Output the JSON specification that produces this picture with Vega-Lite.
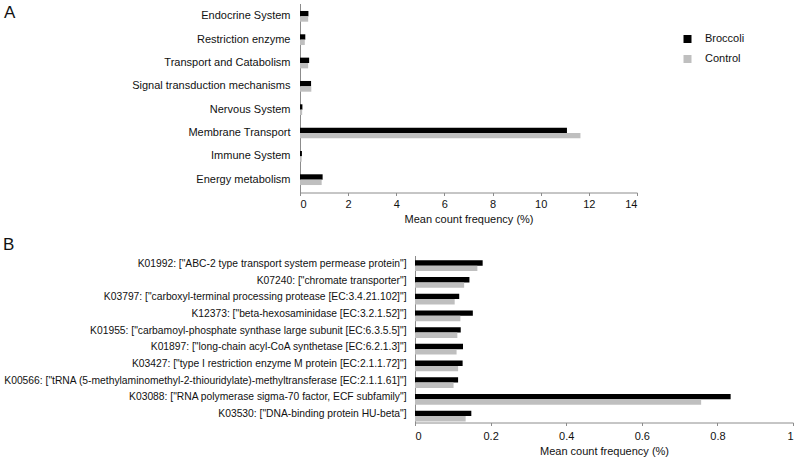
{
  "$schema": "https://vega.github.io/schema/vega-lite/v6.json",
  "padding": {"left": 3, "top": 3.5, "right": 0, "bottom": 0},
  "background": "#ffffff",
  "config": {
    "font": "Liberation Sans",
    "view": {"stroke": null},
    "axis": {
      "labelFont": "Liberation Sans",
      "titleFont": "Liberation Sans",
      "labelFontSize": 11,
      "titleFontSize": 11,
      "titleFontWeight": "normal",
      "labelColor": "#111111",
      "titleColor": "#111111",
      "domainColor": "#8c8c8c",
      "tickColor": "#8c8c8c",
      "grid": false
    },
    "legend": {"labelFont": "Liberation Sans", "labelFontSize": 11, "labelColor": "#111111"},
    "title": {"font": "Liberation Sans", "fontSize": 17, "fontWeight": "normal", "color": "#111111"}
  },
  "spacing": 11,
  "resolve": {"scale": {"color": "independent", "x": "independent", "y": "independent"}, "legend": {"color": "independent"}},
  "vconcat": [
    {
      "title": {"text": "A", "anchor": "start", "frame": "group", "dx": -411, "dy": 22},
      "width": 222,
      "height": 189,
      "data": {"values": [
        {"category": "Endocrine System", "group": "Broccoli", "value": 0.35},
        {"category": "Endocrine System", "group": "Control", "value": 0.34},
        {"category": "Restriction enzyme", "group": "Broccoli", "value": 0.22},
        {"category": "Restriction enzyme", "group": "Control", "value": 0.2},
        {"category": "Transport and Catabolism", "group": "Broccoli", "value": 0.38},
        {"category": "Transport and Catabolism", "group": "Control", "value": 0.34},
        {"category": "Signal transduction mechanisms", "group": "Broccoli", "value": 0.46},
        {"category": "Signal transduction mechanisms", "group": "Control", "value": 0.47},
        {"category": "Nervous System", "group": "Broccoli", "value": 0.1},
        {"category": "Nervous System", "group": "Control", "value": 0.09},
        {"category": "Membrane Transport", "group": "Broccoli", "value": 11.09},
        {"category": "Membrane Transport", "group": "Control", "value": 11.65},
        {"category": "Immune System", "group": "Broccoli", "value": 0.08},
        {"category": "Immune System", "group": "Control", "value": 0.07},
        {"category": "Energy metabolism", "group": "Broccoli", "value": 0.94},
        {"category": "Energy metabolism", "group": "Control", "value": 0.9}
      ]},
      "mark": {"type": "bar"},
      "encoding": {
        "y": {"field": "category", "type": "nominal", "sort": null,
          "scale": {"paddingInner": 0.54, "paddingOuter": 0.32},
          "axis": {"title": null, "ticks": false, "labelPadding": 10, "offset": 115, "minExtent": 0, "maxExtent": 412, "labelLimit": 0}},
        "x": {"field": "value", "type": "quantitative", "scale": {"domain": [0, 14], "range": [-115, 222]},
          "axis": {"values": [0, 2, 4, 6, 8, 10, 12, 14], "title": "Mean count frequency (%)", "tickSize": 3, "labelPadding": 3, "titlePadding": 4}},
        "yOffset": {"field": "group", "type": "nominal", "sort": ["Broccoli", "Control"]},
        "color": {"field": "group", "type": "nominal",
          "scale": {"domain": ["Broccoli", "Control"], "range": ["#000000", "#bfbfbf"]},
          "legend": {"title": null, "orient": "none", "legendX": 267, "legendY": 30, "symbolType": "square", "symbolSize": 64, "symbolStrokeWidth": 0, "labelOffset": 12, "rowPadding": 8}}
      }
    },
    {
      "title": {"text": "B", "anchor": "start", "frame": "bounds", "offset": 1.2},
      "width": 378,
      "height": 167,
      "data": {"values": [
        {"category": "K01992: [\"ABC-2 type transport system permease protein\"]", "group": "Broccoli", "value": 0.179},
        {"category": "K01992: [\"ABC-2 type transport system permease protein\"]", "group": "Control", "value": 0.165},
        {"category": "K07240: [\"chromate transporter\"]", "group": "Broccoli", "value": 0.144},
        {"category": "K07240: [\"chromate transporter\"]", "group": "Control", "value": 0.13},
        {"category": "K03797: [\"carboxyl-terminal processing protease [EC:3.4.21.102]\"]", "group": "Broccoli", "value": 0.117},
        {"category": "K03797: [\"carboxyl-terminal processing protease [EC:3.4.21.102]\"]", "group": "Control", "value": 0.105},
        {"category": "K12373: [\"beta-hexosaminidase [EC:3.2.1.52]\"]", "group": "Broccoli", "value": 0.153},
        {"category": "K12373: [\"beta-hexosaminidase [EC:3.2.1.52]\"]", "group": "Control", "value": 0.12},
        {"category": "K01955: [\"carbamoyl-phosphate synthase large subunit [EC:6.3.5.5]\"]", "group": "Broccoli", "value": 0.121},
        {"category": "K01955: [\"carbamoyl-phosphate synthase large subunit [EC:6.3.5.5]\"]", "group": "Control", "value": 0.112},
        {"category": "K01897: [\"long-chain acyl-CoA synthetase [EC:6.2.1.3]\"]", "group": "Broccoli", "value": 0.127},
        {"category": "K01897: [\"long-chain acyl-CoA synthetase [EC:6.2.1.3]\"]", "group": "Control", "value": 0.11},
        {"category": "K03427: [\"type I restriction enzyme M protein [EC:2.1.1.72]\"]", "group": "Broccoli", "value": 0.126},
        {"category": "K03427: [\"type I restriction enzyme M protein [EC:2.1.1.72]\"]", "group": "Control", "value": 0.114},
        {"category": "K00566: [\"tRNA (5-methylaminomethyl-2-thiouridylate)-methyltransferase [EC:2.1.1.61]\"]", "group": "Broccoli", "value": 0.114},
        {"category": "K00566: [\"tRNA (5-methylaminomethyl-2-thiouridylate)-methyltransferase [EC:2.1.1.61]\"]", "group": "Control", "value": 0.102},
        {"category": "K03088: [\"RNA polymerase sigma-70 factor, ECF subfamily\"]", "group": "Broccoli", "value": 0.835},
        {"category": "K03088: [\"RNA polymerase sigma-70 factor, ECF subfamily\"]", "group": "Control", "value": 0.757},
        {"category": "K03530: [\"DNA-binding protein HU-beta\"]", "group": "Broccoli", "value": 0.149},
        {"category": "K03530: [\"DNA-binding protein HU-beta\"]", "group": "Control", "value": 0.134}
      ]},
      "mark": {"type": "bar"},
      "encoding": {
        "y": {"field": "category", "type": "nominal", "sort": null,
          "scale": {"paddingInner": 0.58, "paddingOuter": 0.29},
          "axis": {"title": null, "ticks": false, "labelPadding": 9, "labelFontSize": 10.3, "minExtent": 412, "maxExtent": 412, "labelLimit": 0}},
        "x": {"field": "value", "type": "quantitative", "scale": {"domain": [0, 1]},
          "axis": {"values": [0, 0.2, 0.4, 0.6, 0.8, 1], "format": "~g", "title": "Mean count frequency (%)", "tickSize": 3, "labelPadding": 5, "titlePadding": 4}},
        "yOffset": {"field": "group", "type": "nominal", "sort": ["Broccoli", "Control"]},
        "color": {"field": "group", "type": "nominal",
          "scale": {"domain": ["Broccoli", "Control"], "range": ["#000000", "#bfbfbf"]},
          "legend": null}
      }
    }
  ]
}
